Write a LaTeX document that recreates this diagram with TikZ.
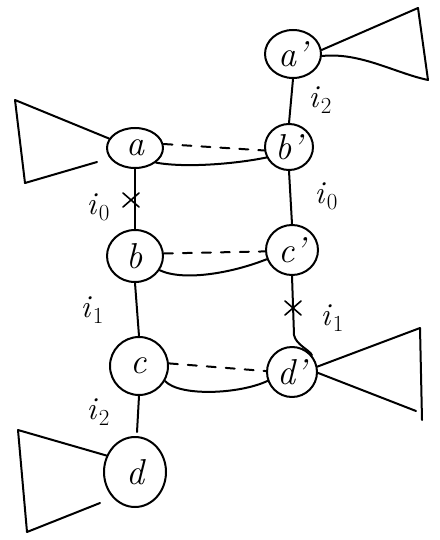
\documentclass[tikz,border=0pt]{standalone}
\usetikzlibrary{shapes.geometric,calc}
\newcommand{\lblsub}[2]{\textit{#1}\kern1pt\raisebox{-0.2em}{\fontsize{23}{23}\selectfont #2}}
\begin{document}
\begin{tikzpicture}[x=1pt,y=-1pt,line width=2pt,line cap=round,line join=round,
  vtx/.style={draw,ellipse,inner sep=0pt,font=\fontsize{36}{36}\selectfont\itshape},
  lbl/.style={font=\fontsize{32}{32}\selectfont,inner sep=0pt},
  dashline/.style={dash pattern=on 9pt off 10pt},
  crossline/.style={line width=1.6pt}]
\useasboundingbox (0,0) rectangle (439,540);
% vertices
\node[vtx,minimum width=56pt,minimum height=48pt] (ap) at (293,54) {a\textquoteright};
\node[vtx,minimum width=48pt,minimum height=46pt] (bp) at (289,147) {b\textquoteright};
\node[vtx,minimum width=56pt,minimum height=40pt] (a) at (135,148) {a};
\node[vtx,minimum width=56pt,minimum height=52pt] (b) at (135,256) {b};
\node[vtx,minimum width=52pt,minimum height=50pt] (cp) at (292,250) {c\textquoteright};
\node[vtx,minimum width=58pt,minimum height=58pt] (c) at (139,366) {c};
\node[vtx,minimum width=50pt,minimum height=50pt] (dp) at (292,372) {d\textquoteright};
\node[vtx,minimum width=62pt,minimum height=70pt] (d) at (135,472) {d};
% triangles
\coordinate (t1a) at (418,8); \coordinate (t1b) at (428,80);
\draw (ap.8) -- (t1a) -- (t1b) .. controls (395,73) and (360,52) .. (ap.-4);
\coordinate (t2a) at (15,100); \coordinate (t2b) at (25,183); \coordinate (t2c) at (97,162);
\draw (a.160) -- (t2a) -- (t2b) -- (t2c);
\coordinate (t3a) at (420,328); \coordinate (t3b) at (422,420); \coordinate (t3c) at (416,411);
\draw (dp.12) -- (t3a) -- (t3b);
\draw (dp.-2) -- (t3c);
\coordinate (t4a) at (18,430); \coordinate (t4b) at (27,532); \coordinate (t4c) at (100,503);
\draw (d.150) -- (t4a) -- (t4b) -- (t4c);
% horizontal pairs
\draw[dashline] (a.8) -- (bp.188);
\draw (a.-35) .. controls (185,168) and (235,164) .. (bp.205);
\draw[dashline] (b.5) -- (cp.183);
\draw (b.-30) .. controls (185,282) and (235,272) .. (cp.200);
\draw[dashline] (c.5) -- (dp.178);
\draw (c.-30) .. controls (180,397) and (240,394) .. (dp.200);
% vertical edges
\draw (ap.south) -- (bp.north);
\node[lbl] (l1) at (320,100) {\lblsub{i}{2}};
\draw (a.south) -- (b.north);
\coordinate (s1) at (131,200);
\draw[crossline] ($(s1)+(-8,-7)$) -- ($(s1)+(8,7)$) ($(s1)+(-8,7)$) -- ($(s1)+(8,-7)$);
\node[lbl] (l2) at (98,207) {\lblsub{i}{0}};
\draw (bp.south) -- (cp.north);
\node[lbl] (l3) at (326,196) {\lblsub{i}{0}};
\draw (b.south) -- (c.north);
\node[lbl] (l4) at (92,310) {\lblsub{i}{1}};
\coordinate (m1) at (294,335);
\draw (cp.south) -- (m1) .. controls (296,345) and (310,350) .. (dp.40);
\coordinate (s2) at (293,308);
\draw[crossline] ($(s2)+(-8,-7)$) -- ($(s2)+(8,7)$) ($(s2)+(-8,7)$) -- ($(s2)+(8,-7)$);
\node[lbl] (l5) at (332,318) {\lblsub{i}{1}};
\coordinate (m2) at (137,432);
\draw (c.south) -- (m2);
\node[lbl] (l6) at (98,412) {\lblsub{i}{2}};
\end{tikzpicture}
\end{document}
